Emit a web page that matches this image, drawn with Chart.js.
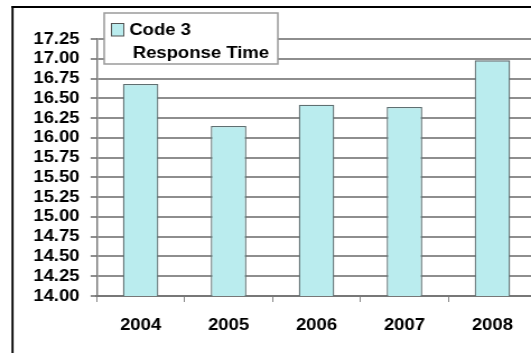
<!DOCTYPE html>
<html>
<head>
<meta charset="utf-8">
<script src="https://cdn.jsdelivr.net/npm/chart.js@4"></script>
<style>
    html, body { margin: 0; padding: 0; background: #fff; overflow: hidden; }
    #chart { display: block; }
</style>
</head>
<body>
<!-- drawn narrow, then widened a little so the bold labels get their wide look -->
<canvas id="chart" width="482" height="353" style="width:540px;height:353px"></canvas>
<script>
const years = ['2004', '2005', '2006', '2007', '2008'];
const responseTimes = [16.68, 16.15, 16.42, 16.39, 16.98];
const seriesLabel = ['Code 3', 'Response Time'];
const yTicks = [14.00, 14.25, 14.50, 14.75, 15.00, 15.25, 15.50, 15.75,
    16.00, 16.25, 16.50, 16.75, 17.00, 17.25];

const FONT = { family: "'Liberation Sans', Arial, sans-serif", size: 16.5, weight: 'bold' };
const BAR_FILL = '#baecee';
const BAR_EDGE = '#5f6f71';

// white page plus the black frame on the left and top
const framePlugin = {
    id: 'frame',
    beforeDraw(chart) {
        const { ctx, width, height } = chart;
        ctx.save();
        ctx.fillStyle = '#fff';
        ctx.fillRect(0, 0, width, height);
        ctx.fillStyle = '#000';
        ctx.fillRect(10.3, 6, 1.8, height);
        ctx.fillRect(10.3, 6, width, 2);
        ctx.restore();
    }
};

// boxed legend sitting over the top of the plot
const legendBox = {
    id: 'legendBox',
    afterDraw(chart) {
        const ctx = chart.ctx;
        const ds = chart.data.datasets[0];
        ctx.save();
        ctx.fillStyle = '#fff';
        ctx.fillRect(93, 13, 155, 51);
        ctx.strokeStyle = '#9a9a9a';
        ctx.lineWidth = 1.5;
        ctx.strokeRect(93, 13, 155, 51);

        ctx.fillStyle = ds.backgroundColor;
        ctx.fillRect(99.5, 23.5, 11, 12.5);
        ctx.strokeStyle = '#555';
        ctx.lineWidth = 1;
        ctx.strokeRect(99.5, 23.5, 11, 12.5);

        ctx.fillStyle = '#000';
        ctx.font = `${FONT.weight} ${FONT.size}px ${FONT.family}`;
        ctx.textBaseline = 'alphabetic';
        ctx.textAlign = 'left';
        ctx.fillText(seriesLabel[0], 115.4, 35.3);
        ctx.fillText(seriesLabel[1], 118.5, 57.5);
        ctx.restore();
    }
};

new Chart(document.getElementById('chart'), {
    type: 'bar',
    data: {
        labels: years,
        datasets: [{
            label: seriesLabel.join(' '),
            data: responseTimes,
            backgroundColor: BAR_FILL,
            borderColor: BAR_EDGE,
            borderWidth: 1.3,
            barPercentage: 0.404,
            categoryPercentage: 1
        }]
    },
    options: {
        responsive: false,
        animation: false,
        devicePixelRatio: 1,
        layout: { padding: { top: 39, right: 3.25, bottom: 0, left: 0 } },
        plugins: {
            legend: { display: false },
            tooltip: { enabled: false }
        },
        scales: {
            x: {
                afterFit(scale) { scale.height = 57; },
                grid: { drawOnChartArea: false, color: '#8a8a8a', lineWidth: 1, tickLength: 6 },
                border: { color: '#777', width: 2 },
                ticks: { font: FONT, color: '#000', padding: 14, maxRotation: 0, autoSkip: false }
            },
            y: {
                min: 14,
                max: 17.25,
                afterBuildTicks(scale) { scale.ticks = yTicks.map(v => ({ value: v })); },
                afterFit(scale) { scale.width = 86.3; },
                grid: { color: '#8e8e8e', lineWidth: 2, tickLength: 5.4 },
                border: { color: '#777', width: 1.4 },
                ticks: { font: FONT, color: '#000', padding: 9.9, autoSkip: false, callback: v => v.toFixed(2) }
            }
        }
    },
    plugins: [framePlugin, legendBox]
});
</script>
</body>
</html>
